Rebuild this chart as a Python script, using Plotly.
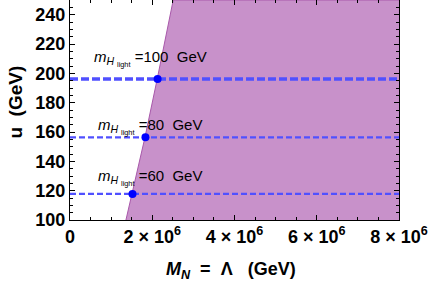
import plotly.graph_objects as go

# boundary of shaded region (u in GeV, M_N in GeV)
boundary_u = [100, 118, 156, 196, 250]
boundary_M = [1.36e6, 1.51e6, 1.82e6, 2.12e6, 2.51e6]

# horizontal benchmark lines
mH_light = [100, 80, 60]
u_lines = [196.1, 156.4, 117.8]
M_dots = [2.13e6, 1.835e6, 1.52e6]
label_x = [1.95e6, 1.95e6, 1.95e6]
label_u = [210, 164, 129]

x_ticks = [0, 2e6, 4e6, 6e6, 8e6]
x_ticktext = ["0", "2 × 10<sup>6</sup>", "4 × 10<sup>6</sup>", "6 × 10<sup>6</sup>", "8 × 10<sup>6</sup>"]
y_ticks = [100, 120, 140, 160, 180, 200, 220, 240]

XMAX = 8e6
UMIN, UMAX = 100, 250
FONT = "Liberation Sans"

fig = go.Figure()

# shaded region: right of boundary
fig.add_trace(go.Scatter(
    x=boundary_M + [XMAX * 1.01, XMAX * 1.01],
    y=boundary_u + [UMAX, UMIN],
    fill="toself", mode="lines",
    fillcolor="rgba(200,145,202,1)",
    line=dict(color="rgba(168,88,170,1)", width=1),
    hoverinfo="skip", showlegend=False,
))

widths = [3.5, 2.2, 2.2]
dashes = ["8px,3px", "6px,3px", "6px,3px"]
for i in range(len(u_lines)):
    fig.add_trace(go.Scatter(
        x=[0, XMAX], y=[u_lines[i], u_lines[i]], mode="lines",
        line=dict(color="rgb(80,80,255)", width=widths[i], dash=dashes[i]),
        showlegend=False, hoverinfo="skip",
    ))
    fig.add_trace(go.Scatter(
        x=[M_dots[i]], y=[u_lines[i]], mode="markers",
        marker=dict(color="rgb(0,0,255)", size=8),
        showlegend=False, hoverinfo="skip",
    ))
    fig.add_annotation(
        x=label_x[i], y=label_u[i], xref="x", yref="y",
        text="<i>m</i><sub><i>H</i> <sub>light</sub></sub> =%d  GeV" % mH_light[i],
        showarrow=False, font=dict(family=FONT, size=15, color="black"),
        xanchor="center", yanchor="middle",
    )

# axis titles as annotations for exact placement
fig.add_annotation(
    x=231, y=270, xref="paper", yref="paper",
    text="<b><i>M</i><sub><i>N</i></sub>  =  Λ   (GeV)</b>",
    showarrow=False, font=dict(family=FONT, size=18, color="black"),
    xanchor="center", yanchor="middle",
)
fig.add_annotation(
    x=14, y=102, xref="paper", yref="paper",
    text="<b>u  (GeV)</b>", textangle=-90,
    showarrow=False, font=dict(family=FONT, size=19, color="black"),
    xanchor="center", yanchor="middle",
)

axis_common = dict(
    showgrid=False, zeroline=False, showline=True, linecolor="black", linewidth=1.2,
    mirror="ticks", ticks="inside", ticklen=5, tickcolor="black", tickwidth=1,
    tickfont=dict(family=FONT, size=18, color="black"), automargin=False,
)

fig.update_xaxes(
    range=[0, XMAX], tickvals=x_ticks,
    ticktext=["<b>%s</b>" % t for t in x_ticktext],
    minor=dict(ticks="inside", ticklen=2.5, dtick=5e5, tickcolor="black"),
    **axis_common,
)
fig.update_yaxes(
    range=[UMIN, UMAX], tickvals=y_ticks,
    ticktext=["<b>%d</b>" % t for t in y_ticks],
    minor=dict(ticks="inside", ticklen=2.5, dtick=5, tickcolor="black"),
    **axis_common,
)

L, R, T, B = 69.5, 32, 0, 64
fig.update_layout(
    width=431, height=284,
    margin=dict(l=L, r=R, t=T, b=B, pad=0),
    paper_bgcolor="white", plot_bgcolor="white",
)

# convert pixel positions of the title annotations to paper coordinates
pw = 431 - L - R
ph = 284 - T - B
for ann in fig.layout.annotations:
    if ann.xref == "paper":
        px, py = ann.x, ann.y
        ann.x = (px - L) / pw
        ann.y = 1 - (py - T) / ph

fig.write_html(
    "out.html",
    config={"displayModeBar": False},
    post_script="document.body.style.margin='0';document.body.style.overflow='hidden';",
)
